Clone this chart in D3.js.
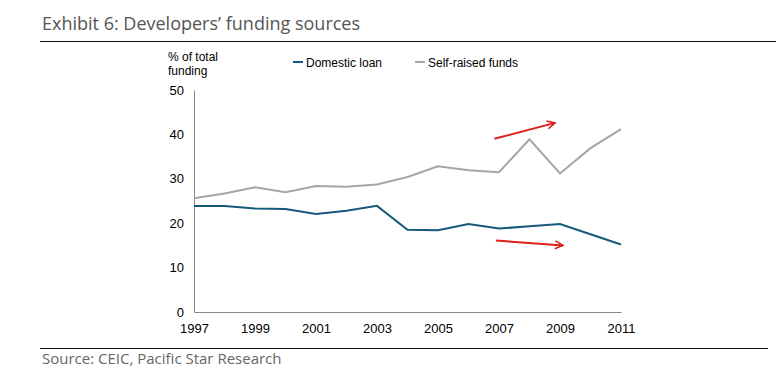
<!DOCTYPE html>
<html>
<head>
<meta charset="utf-8">
<script src="https://cdn.jsdelivr.net/npm/d3@7"></script>
<style>
  body { margin: 0; background: #fff; }
  svg text { font-family: "Liberation Sans", Arial, sans-serif; }
</style>
</head>
<body>
<div id="chart"></div>
<script>
// data
var years = [1997, 1998, 1999, 2000, 2001, 2002, 2003, 2004, 2005, 2006, 2007, 2008, 2009, 2010, 2011];
var domesticLoan = [23.9, 23.9, 23.3, 23.2, 22.1, 22.8, 23.9, 18.5, 18.4, 19.8, 18.8, 19.3, 19.8, 17.5, 15.2];
var selfRaised = [25.6, 26.7, 28.1, 27.0, 28.4, 28.2, 28.7, 30.4, 32.8, 31.9, 31.5, 38.9, 31.2, 36.9, 41.2];
var yTicks = [0, 10, 20, 30, 40, 50];
var xTicks = [1997, 1999, 2001, 2003, 2005, 2007, 2009, 2011];
// red trend arrows: [x1, y1, x2, y2] in data units
var arrows = [
  [2006.85, 39.0, 2008.84, 42.6],
  [2006.9, 16.1, 2009.1, 15.0]
];

var W = 776, H = 382;
var svg = d3.select("#chart").append("svg")
  .attr("width", W)
  .attr("height", H);

svg.append("defs").append("marker")
  .attr("id", "head")
  .attr("viewBox", "0 0 10 10")
  .attr("refX", 9).attr("refY", 5)
  .attr("markerWidth", 5).attr("markerHeight", 5)
  .attr("orient", "auto")
  .append("path")
  .attr("d", "M1,1 L9,5 L1,9")
  .attr("fill", "none")
  .attr("stroke", "#e0201b")
  .attr("stroke-width", 1.6);

//title + rules
svg.append("text")
  .attr("x", 42).attr("y", 30)
  .style("font-family", "'Open Sans', sans-serif")
  .style("font-size", "18px")
  .style("fill", "#555")
  .text("Exhibit 6: Developers\u2019 funding sources");

svg.append("line")
  .attr("x1", 40).attr("x2", 776)
  .attr("y1", 41.5).attr("y2", 41.5)
  .attr("stroke", "#111").attr("stroke-width", 1.2);

svg.append("line")
  .attr("x1", 40).attr("x2", 768)
  .attr("y1", 348.5).attr("y2", 348.5)
  .attr("stroke", "#111").attr("stroke-width", 1.2);

svg.append("text")
  .attr("x", 42).attr("y", 364)
  .style("font-family", "'Open Sans', sans-serif")
  .style("font-size", "15px")
  .style("fill", "#666")
  .text("Source: CEIC, Pacific Star Research");

//scales
var x = d3.scaleLinear().domain([1997, 2011]).range([194, 621]);
var y = d3.scaleLinear().domain([0, 50]).range([312, 90]);

//axes
var yAxis = svg.append("g")
  .attr("transform", "translate(194,0)")
  .call(d3.axisLeft(y).tickValues(yTicks).tickSize(0).tickPadding(10));
yAxis.select(".domain").attr("stroke", "#888");
yAxis.selectAll("text").style("font-size", "13px").style("fill", "#000");

var xAxis = svg.append("g")
  .attr("transform", "translate(0,312)")
  .call(d3.axisBottom(x).tickValues(xTicks).tickFormat(d3.format("d")).tickSize(0).tickPadding(12));
xAxis.select(".domain").attr("stroke", "#888");
xAxis.selectAll("text").style("font-size", "13px").style("fill", "#000");

//y label
svg.append("text")
  .attr("x", 168).attr("y", 61)
  .style("font-size", "12px")
  .selectAll("tspan")
  .data(["% of total", "funding"])
  .enter().append("tspan")
  .attr("x", 168)
  .attr("dy", (d, i) => i ? 14 : 0)
  .text(d => d);

//lines
var line = d3.line()
  .x((d, i) => x(years[i]))
  .y(d => y(d));

svg.append("path")
  .datum(selfRaised)
  .attr("d", line)
  .attr("fill", "none")
  .attr("stroke", "#a6a6a6")
  .attr("stroke-width", 2);

svg.append("path")
  .datum(domesticLoan)
  .attr("d", line)
  .attr("fill", "none")
  .attr("stroke", "#17597a")
  .attr("stroke-width", 2);

//arrows
svg.append("g").selectAll("line")
  .data(arrows)
  .enter().append("line")
  .attr("x1", d => x(d[0])).attr("y1", d => y(d[1]))
  .attr("x2", d => x(d[2])).attr("y2", d => y(d[3]))
  .attr("stroke", "#e0201b")
  .attr("stroke-width", 2)
  .attr("marker-end", "url(#head)");

//legend
var legend = [
  {name: "Domestic loan", color: "#17597a", x: 293},
  {name: "Self-raised funds", color: "#a6a6a6", x: 415}
];
var lg = svg.append("g").selectAll("g")
  .data(legend)
  .enter().append("g");
lg.append("line")
  .attr("x1", d => d.x).attr("x2", d => d.x + 10)
  .attr("y1", 62).attr("y2", 62)
  .attr("stroke", d => d.color)
  .attr("stroke-width", 2);
lg.append("text")
  .attr("x", d => d.x + 13).attr("y", 66.5)
  .style("font-size", "12px")
  .text(d => d.name);
</script>
</body>
</html>
